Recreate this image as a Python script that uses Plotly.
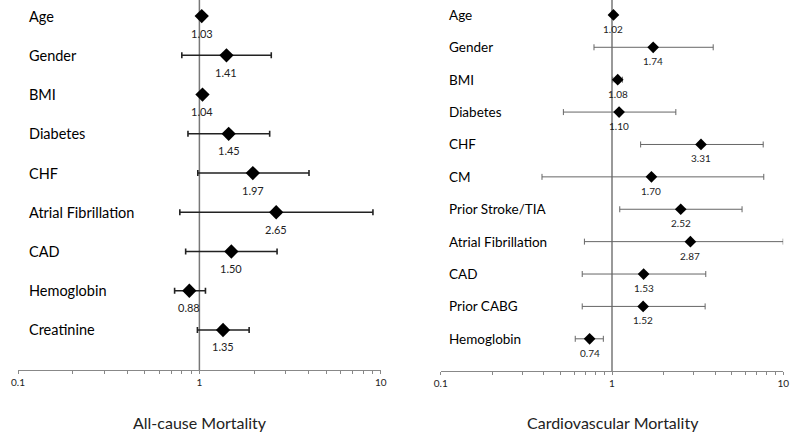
import math
import plotly.graph_objects as go

# All-cause mortality
ac_labels = ["Age", "Gender", "BMI", "Diabetes", "CHF", "Atrial Fibrillation", "CAD", "Hemoglobin", "Creatinine"]
ac_hr = [1.03, 1.41, 1.04, 1.45, 1.97, 2.65, 1.50, 0.88, 1.35]
ac_lo = [1.02, 0.80, 1.02, 0.865, 0.98, 0.78, 0.84, 0.73, 0.975]
ac_hi = [1.04, 2.49, 1.06, 2.44, 4.02, 9.05, 2.68, 1.08, 1.88]

# Cardiovascular mortality
cv_labels = ["Age", "Gender", "BMI", "Diabetes", "CHF", "CM", "Prior Stroke/TIA",
             "Atrial Fibrillation", "CAD", "Prior CABG", "Hemoglobin"]
cv_hr = [1.02, 1.74, 1.08, 1.10, 3.31, 1.70, 2.52, 2.87, 1.53, 1.52, 0.74]
cv_lo = [1.01, 0.785, 1.01, 0.52, 1.47, 0.39, 1.11, 0.69, 0.67, 0.67, 0.61]
cv_hi = [1.03, 3.90, 1.15, 2.36, 7.64, 7.70, 5.75, 10.0, 3.53, 3.50, 0.89]

tick_vals = [0.1, 1, 10]
tick_text = ["0.1", "1", "10"]
minor_vals = [0.2, 0.3, 0.4, 0.5, 0.6, 0.7, 0.8, 0.9, 2, 3, 4, 5, 6, 7, 8, 9]

FONT = "Lato, 'Open Sans', sans-serif"

fig = go.Figure()

def add_panel(labels, hr, lo, hi, xa, ya, lcolor, lwidth, msize):
    fig.add_trace(go.Scatter(
        x=hr, y=labels, mode="markers",
        marker=dict(symbol="diamond", size=msize, color="black"),
        error_x=dict(type="data", symmetric=False,
                     array=[h - m for h, m in zip(hi, hr)],
                     arrayminus=[m - l for m, l in zip(hr, lo)],
                     color=lcolor, thickness=lwidth, width=3),
        xaxis=xa, yaxis=ya, showlegend=False, cliponaxis=False, hoverinfo="skip"))

add_panel(ac_labels, ac_hr, ac_lo, ac_hi, "x", "y", "#222", 1.6, 11)
add_panel(cv_labels, cv_hr, cv_lo, cv_hi, "x2", "y2", "#666", 1, 9)

xcommon = dict(type="log", range=[-1, 1], tickmode="array", tickvals=tick_vals, ticktext=tick_text,
               showgrid=False, zeroline=False, showline=True, linecolor="#888",
               linewidth=1, ticks="outside", ticklen=3, tickcolor="#888", automargin=False,
               minor=dict(tickmode="array", tickvals=minor_vals, ticks="outside", ticklen=3,
                          tickcolor="#888", showgrid=False),
               tickfont=dict(size=10, color="#222", family=FONT))
ycommon = dict(type="category", showticklabels=False, showgrid=False, zeroline=False,
               showline=False, ticks="", automargin=False)

fig.update_layout(
    width=800, height=441, margin=dict(l=0, r=0, t=0, b=0, pad=0, autoexpand=False),
    plot_bgcolor="white", paper_bgcolor="white",
    xaxis=dict(domain=[0.0225, 0.476], anchor="y", **xcommon),
    yaxis=dict(domain=[0.161, 1.0], anchor="x", categoryarray=ac_labels, range=[9.02, -0.41], **ycommon),
    xaxis2=dict(domain=[0.551, 0.979], anchor="y2", **xcommon),
    yaxis2=dict(domain=[0.159, 1.0], anchor="x2", categoryarray=cv_labels, range=[10.99, -0.46], **ycommon),
)

# reference line at HR = 1
fig.add_shape(type="line", xref="x", yref="y domain", x0=1, x1=1, y0=0, y1=1,
              line=dict(color="#777", width=1.5), layer="below")
fig.add_shape(type="line", xref="x2", yref="y2 domain", x0=1, x1=1, y0=0, y1=1,
              line=dict(color="#777", width=1.5), layer="below")

# value labels under the diamonds (annotation x on log axes is in log10 units)
for lab, v in zip(ac_labels, ac_hr):
    fig.add_annotation(x=math.log10(v), y=lab, xref="x", yref="y", text=f"{v:.2f}", showarrow=False,
                       yshift=-17, xanchor="center", font=dict(size=11, color="#222", family=FONT))
for lab, v in zip(cv_labels, cv_hr):
    fig.add_annotation(x=math.log10(v), y=lab, xref="x2", yref="y2", text=f"{v:.2f}", showarrow=False,
                       yshift=-14, xanchor="center", font=dict(size=10, color="#222", family=FONT))

for lab in ac_labels:
    fig.add_annotation(x=0.0335, xref="paper", y=lab, yref="y", text=lab,
                       showarrow=False, xanchor="left",
                       font=dict(size=14.5, color="#000", family=FONT))
for lab in cv_labels:
    fig.add_annotation(x=0.5585, xref="paper", y=lab, yref="y2", text=lab,
                       showarrow=False, xanchor="left",
                       font=dict(size=13.5, color="#000", family=FONT))

fig.add_annotation(x=0.25, xref="paper", y=1 - 422 / 441, yref="paper", text="All-cause Mortality",
                   showarrow=False, xanchor="center", yanchor="middle",
                   font=dict(size=16, color="#222", family=FONT))
fig.add_annotation(x=0.766, xref="paper", y=1 - 422 / 441, yref="paper", text="Cardiovascular Mortality",
                   showarrow=False, xanchor="center", yanchor="middle",
                   font=dict(size=16, color="#222", family=FONT))

fig.write_html("out.html", config={"displayModeBar": False},
               post_script="document.body.style.margin='0';")
